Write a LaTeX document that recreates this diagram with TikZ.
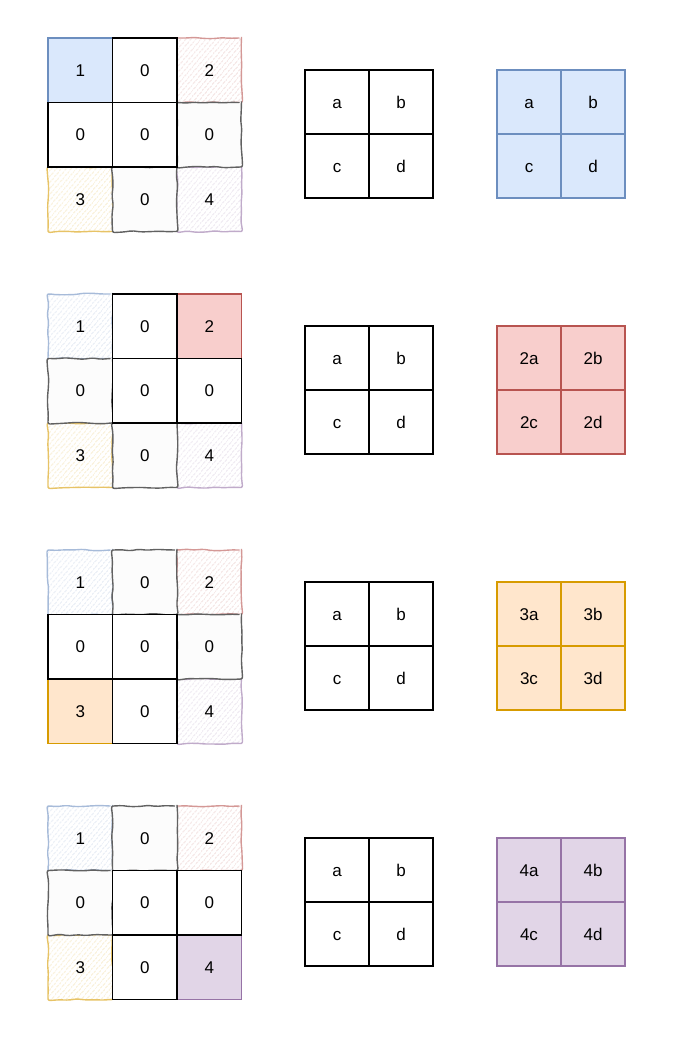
\documentclass[tikz,border=0pt]{standalone}
\usepackage{fontspec}
\setmainfont{Liberation Sans}
\usetikzlibrary{decorations.pathmorphing,patterns.meta}
\definecolor{blueFill}{HTML}{DAE8FC}
\definecolor{blueLine}{HTML}{6C8EBF}
\definecolor{redFill}{HTML}{F8CECC}
\definecolor{redLine}{HTML}{B85450}
\definecolor{orangeFill}{HTML}{FFE6CC}
\definecolor{orangeLine}{HTML}{D79B00}
\definecolor{purpleFill}{HTML}{E1D5E7}
\definecolor{purpleLine}{HTML}{9673A6}
\begin{document}
\begin{tikzpicture}%
        [x={(1pt,0pt)},
        y={(0pt,-1pt)},
        font=\fontsize{17}{19}\selectfont,
        cell/.style={draw=black,line width=1.2pt,minimum size=64.5pt,inner sep=0pt,fill=white,
          text height=12.2pt,text depth=0pt},
        kcell/.style={cell,minimum size=64pt},
        sketch/.style={cell,draw=black!62,line width=1.4pt,fill=black!1,decorate,
          decoration={random steps,segment length=9pt,amplitude=0.8pt},rounded corners=2pt},
        hatch/.style={sketch,draw=#1Line!60,fill=none,
          pattern={Lines[angle=50,distance=4pt,line width=0.55pt]},pattern color=#1Line!35},
        solid/.style={cell,draw=#1Line,fill=#1Fill},
        ksolid/.style={kcell,draw=#1Line,fill=#1Fill}]
    %
    \useasboundingbox (0,0) rectangle (680,1056);
    %
    %% Row 1: window on the 1
    %%
    \node[hatch=red]    (m1-13) at (209.25,70.25)  {2};
    \node[hatch=orange] (m1-31) at (80.25,199.25)  {3};
    \node[hatch=purple] (m1-33) at (209.25,199.25) {4};
    \node[sketch]       (m1-23) at (209.25,134.75) {0};
    \node[sketch]       (m1-32) at (144.75,199.25) {0};
    \node[solid=blue]   (m1-11) at (80.25,70.25)   {1};
    \node[cell]         (m1-12) at (144.75,70.25)  {0};
    \node[cell]         (m1-21) at (80.25,134.75)  {0};
    \node[cell]         (m1-22) at (144.75,134.75) {0};
    %%
    \node[kcell] (k1-11) at (337,102) {a};
    \node[kcell] (k1-12) at (401,102) {b};
    \node[kcell] (k1-21) at (337,166) {c};
    \node[kcell] (k1-22) at (401,166) {d};
    %%
    \node[ksolid=blue] (o1-11) at (529,102) {a};
    \node[ksolid=blue] (o1-12) at (593,102) {b};
    \node[ksolid=blue] (o1-21) at (529,166) {c};
    \node[ksolid=blue] (o1-22) at (593,166) {d};
    %%
    %% Row 2: window on the 2
    %%
    \node[hatch=blue]   (m2-11) at (80.25,326.25)  {1};
    \node[hatch=orange] (m2-31) at (80.25,455.25)  {3};
    \node[hatch=purple] (m2-33) at (209.25,455.25) {4};
    \node[sketch]       (m2-21) at (80.25,390.75)  {0};
    \node[sketch]       (m2-32) at (144.75,455.25) {0};
    \node[solid=red]    (m2-13) at (209.25,326.25) {2};
    \node[cell]         (m2-12) at (144.75,326.25) {0};
    \node[cell]         (m2-22) at (144.75,390.75) {0};
    \node[cell]         (m2-23) at (209.25,390.75) {0};
    %%
    \node[kcell] (k2-11) at (337,358) {a};
    \node[kcell] (k2-12) at (401,358) {b};
    \node[kcell] (k2-21) at (337,422) {c};
    \node[kcell] (k2-22) at (401,422) {d};
    %%
    \node[ksolid=red] (o2-11) at (529,358) {2a};
    \node[ksolid=red] (o2-12) at (593,358) {2b};
    \node[ksolid=red] (o2-21) at (529,422) {2c};
    \node[ksolid=red] (o2-22) at (593,422) {2d};
    %%
    %% Row 3: window on the 3
    %%
    \node[hatch=blue]   (m3-11) at (80.25,582.25)  {1};
    \node[hatch=red]    (m3-13) at (209.25,582.25) {2};
    \node[hatch=purple] (m3-33) at (209.25,711.25) {4};
    \node[sketch]       (m3-12) at (144.75,582.25) {0};
    \node[sketch]       (m3-23) at (209.25,646.75) {0};
    \node[solid=orange] (m3-31) at (80.25,711.25)  {3};
    \node[cell]         (m3-21) at (80.25,646.75)  {0};
    \node[cell]         (m3-22) at (144.75,646.75) {0};
    \node[cell]         (m3-32) at (144.75,711.25) {0};
    %%
    \node[kcell] (k3-11) at (337,614) {a};
    \node[kcell] (k3-12) at (401,614) {b};
    \node[kcell] (k3-21) at (337,678) {c};
    \node[kcell] (k3-22) at (401,678) {d};
    %%
    \node[ksolid=orange] (o3-11) at (529,614) {3a};
    \node[ksolid=orange] (o3-12) at (593,614) {3b};
    \node[ksolid=orange] (o3-21) at (529,678) {3c};
    \node[ksolid=orange] (o3-22) at (593,678) {3d};
    %%
    %% Row 4: window on the 4
    %%
    \node[hatch=blue]   (m4-11) at (80.25,838.25)  {1};
    \node[hatch=red]    (m4-13) at (209.25,838.25) {2};
    \node[hatch=orange] (m4-31) at (80.25,967.25)  {3};
    \node[sketch]       (m4-12) at (144.75,838.25) {0};
    \node[sketch]       (m4-21) at (80.25,902.75)  {0};
    \node[solid=purple] (m4-33) at (209.25,967.25) {4};
    \node[cell]         (m4-22) at (144.75,902.75) {0};
    \node[cell]         (m4-23) at (209.25,902.75) {0};
    \node[cell]         (m4-32) at (144.75,967.25) {0};
    %%
    \node[kcell] (k4-11) at (337,870) {a};
    \node[kcell] (k4-12) at (401,870) {b};
    \node[kcell] (k4-21) at (337,934) {c};
    \node[kcell] (k4-22) at (401,934) {d};
    %%
    \node[ksolid=purple] (o4-11) at (529,870) {4a};
    \node[ksolid=purple] (o4-12) at (593,870) {4b};
    \node[ksolid=purple] (o4-21) at (529,934) {4c};
    \node[ksolid=purple] (o4-22) at (593,934) {4d};
    %%
\end{tikzpicture}
\end{document}
